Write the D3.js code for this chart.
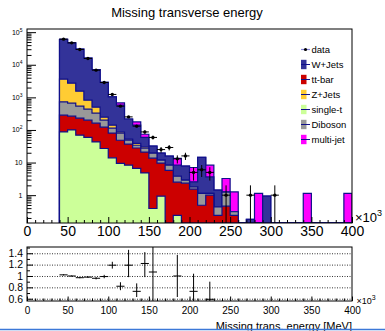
<!DOCTYPE html>
<html>
<head>
<meta charset="utf-8">
<script src="https://cdn.jsdelivr.net/npm/d3@7"></script>
<style>
    html, body { margin: 0; padding: 0; background: #fff; }
    svg { display: block; font-family: "Liberation Sans", Arial, Helvetica, sans-serif; }
</style>
</head>
<body>
<div id="chart"></div>
<script>
// bins of 10 GeV (x axis is in units of 10^3 MeV)
const binLow = [40, 50, 60, 70, 80, 90, 100, 110, 120, 130, 140, 150, 160, 170, 180, 190, 200, 210,
    220, 230, 240, 250, 260, 270, 280, 290, 300, 310, 320, 330, 340, 350, 360, 370, 380, 390];
const binWidth = 10;

// stacked MC samples, bottom to top
const singleT = [87, 100, 69, 59, 43, 27, 14, 9.4, 8.3, 6.6, 4.8, 0.39, 0.93, 0, 0.24, 0, 0, 0,
    0, 0, 0, 0, 0, 0, 0, 0, 0, 0, 0, 0, 0, 0, 0, 0, 0, 0];
const ttbar = [197, 165, 161, 141, 119, 95, 66, 39, 28.7, 21.4, 16.2, 13.2, 8.7, 5.8, 2.26, 2.33, 1.53, 0.49,
    1.0, 0.24, 0.46, 0.24, 0, 0, 0, 0, 0, 0, 0, 0, 0, 0, 0, 0, 0, 0];
const diboson = [444, 399, 307, 235, 165, 78, 34, 31, 12, 6, 6.7, 5.8, 2.2, 2.5, 1.3, 0.55, 0.27, 0.64,
    0.13, 0.2, 0.78, 0.07, 0, 0, 0, 0, 0, 0, 0, 0, 0, 0, 0, 0, 0, 0];
const zjets = [2887, 2063, 1012, 385, 173, 47, 26, 7, 3, 5, 2.3, 0, 0, 0, 0, 0, 0, 0,
    0, 0, 0, 0, 0, 0, 0, 0, 0, 0, 0, 0, 0, 0, 0, 0, 0, 0];
const wjets = [56800, 44300, 28750, 15080, 6610, 2643, 894, 490, 165, 101, 29, 12.6, 7.6, 7.4, 4.5, 4.9, 0.76, 13.2,
    2.5, 0.98, 0, 0, 0, 0.18, 0, 0.93, 0, 0, 0, 0, 0, 0, 0, 0, 0, 0];
const multijet = [0, 0, 0, 0, 0, 0, 0, 101, 0, 37, 15, 0, 0, 0, 5.1, 0, 4.5, 0,
    4.7, 0, 2.0, 0.95, 0, 0, 1.13, 0, 0, 0, 0, 0, 1.13, 0, 0, 0, 0, 1.13];

// data points
const dataLow = [40, 50, 60, 70, 80, 90, 100, 110, 120, 130, 140, 150, 160, 170, 180, 190, 200, 210, 220, 240, 270, 300];
const dataVal = [61000, 47000, 29400, 15600, 6830, 2860, 1230, 537, 252, 131, 87, 59, 25, 29, 13, 16, 5, 6, 5, 1, 1, 1];
const dataErr = [247, 217, 171, 125, 83, 53, 35, 23, 16, 11.4, 9.3, 7.7, 5, 5.4, 3.6, 4, 2.2, 2.4, 2.2, 1, 1, 1];

// data / MC ratio
const ratioLow = [40, 50, 60, 70, 80, 90, 100, 110, 120, 130, 140, 150, 180, 200, 220];
const ratioVal = [1.02, 1.0, 0.97, 0.98, 0.96, 0.99, 1.19, 0.82, 1.19, 0.73, 1.22, 1.07, 1.0, 0.73, 0.59];
const ratioUp = [0.01, 0.01, 0.01, 0.015, 0.02, 0.03, 0.06, 0.07, 0.27, 0.14, 0.2, 0.5, 0.37, 0.31, 0.31];
const ratioDown = [0.01, 0.01, 0.01, 0.015, 0.02, 0.03, 0.06, 0.07, 0.21, 0.1, 0.24, 0.52, 0.37, 0.3, 0.3];

const xTicks = [0, 50, 100, 150, 200, 250, 300, 350, 400];
const yDecades = [1, 10, 100, 1000, 10000, 100000];
const ratioTicks = [0.6, 0.8, 1, 1.2, 1.4];
const ratioTickLabels = ["0.6", "0.8", "1", "1.2", "1.4"];

const keys = ["singleT", "ttbar", "diboson", "zjets", "wjets", "multijet"];
const colors = {
    singleT: "#ccff99",
    ttbar: "#cc0000",
    diboson: "#999999",
    zjets: "#ffcc33",
    wjets: "#333399",
    multijet: "#ff00ff"
};
const outline = "#10108a";
const legendItems = [
    { label: "W+Jets", key: "wjets" },
    { label: "tt-bar", key: "ttbar" },
    { label: "Z+Jets", key: "zjets" },
    { label: "single-t", key: "singleT" },
    { label: "Diboson", key: "diboson" },
    { label: "multi-jet", key: "multijet" }
];

const width = 385;
const height = 331;
const frame = { left: 27, right: 352, top: 29, bottom: 223 };
const rframe = { left: 27, right: 352, top: 247, bottom: 301 };

const svg = d3.select("#chart")
    .append("svg")
    .attr("width", width)
    .attr("height", height);

const x = d3.scaleLinear().domain([0, 400]).range([frame.left, frame.right]);
const y = d3.scaleLog().domain([0.14, 1.25e5]).range([frame.bottom, frame.top]).clamp(true);
const yr = d3.scaleLinear().domain([0.56, 1.51]).range([rframe.bottom, rframe.top]);
const floor = 1e-3;

svg.append("text")
    .attr("x", 187)
    .attr("y", 17)
    .attr("text-anchor", "middle")
    .style("font-size", "13px")
    .text("Missing transverse energy");

const defs = svg.append("defs");
defs.append("clipPath").attr("id", "clipMain")
    .append("rect")
    .attr("x", frame.left).attr("y", frame.top)
    .attr("width", frame.right - frame.left).attr("height", frame.bottom - frame.top);
defs.append("clipPath").attr("id", "clipRatio")
    .append("rect")
    .attr("x", rframe.left).attr("y", rframe.top)
    .attr("width", rframe.right - rframe.left).attr("height", rframe.bottom - rframe.top);

// ---- stacked histograms
const rows = binLow.map((b, i) => ({
    bin: b,
    singleT: singleT[i],
    ttbar: ttbar[i],
    diboson: diboson[i],
    zjets: zjets[i],
    wjets: wjets[i],
    multijet: multijet[i]
}));
const stacked = d3.stack().keys(keys)(rows);

const stepLine = d3.line().x(d => d[0]).y(d => d[1]);
function stepPoints(series) {
    const pts = [[x(binLow[0]), frame.bottom]];
    series.forEach((d, i) => {
        const yy = y(Math.max(d[1], floor));
        pts.push([x(binLow[i]), yy], [x(binLow[i] + binWidth), yy]);
    });
    pts.push([x(binLow[binLow.length - 1] + binWidth), frame.bottom]);
    return pts;
}

const main = svg.append("g").attr("clip-path", "url(#clipMain)");

main.selectAll(".hist")
    .data(stacked.slice().reverse())
    .join("path")
        .attr("class", "hist")
        .attr("d", s => stepLine(stepPoints(s)))
        .attr("fill", s => colors[s.key])
        .attr("stroke", outline)
        .attr("stroke-width", 1.2)
        .attr("stroke-linejoin", "miter");

// ---- data points
const points = dataLow.map((b, i) => ({ bin: b, v: dataVal[i], e: dataErr[i] }));
const dp = main.selectAll(".dp")
    .data(points)
    .join("g")
        .attr("class", "dp");
dp.append("line")
    .attr("x1", d => x(d.bin)).attr("x2", d => x(d.bin + binWidth))
    .attr("y1", d => y(d.v)).attr("y2", d => y(d.v))
    .attr("stroke", "#000").attr("stroke-width", 1);
dp.append("line")
    .attr("x1", d => x(d.bin + binWidth / 2)).attr("x2", d => x(d.bin + binWidth / 2))
    .attr("y1", d => y(d.v + d.e)).attr("y2", d => y(Math.max(d.v - d.e, floor)))
    .attr("stroke", "#000").attr("stroke-width", 1);
dp.append("circle")
    .attr("cx", d => x(d.bin + binWidth / 2))
    .attr("cy", d => y(d.v))
    .attr("r", 1.7)
    .attr("fill", "#000");

// ---- main axes
const xMajor = svg.append("g")
    .attr("transform", `translate(0,${frame.bottom})`)
    .call(d3.axisBottom(x).tickValues(xTicks).tickSize(-6).tickPadding(3.5).tickFormat(d => d));
xMajor.select(".domain").remove();
xMajor.attr("font-size", 14).attr("font-family", null);
xMajor.selectAll("text").attr("fill", "#000");

const minorX = d3.range(0, 401, 10).filter(v => v % 50 !== 0);
svg.append("g")
    .attr("transform", `translate(0,${frame.bottom})`)
    .call(d3.axisBottom(x).tickValues(minorX).tickSize(-3).tickFormat(""))
    .select(".domain").remove();

svg.append("g")
    .attr("transform", `translate(${frame.left},0)`)
    .call(d3.axisLeft(y).tickValues(yDecades).tickSize(-9).tickFormat(""))
    .select(".domain").remove();

const minorY = [];
[-1, 0, 1, 2, 3, 4, 5].forEach(k => {
    for (let m = 2; m <= 9; m++) {
        const v = m * Math.pow(10, k);
        if (v > 0.14 && v < 1.25e5) minorY.push(v);
    }
});
svg.append("g")
    .attr("transform", `translate(${frame.left},0)`)
    .call(d3.axisLeft(y).tickValues(minorY).tickSize(-4.5).tickFormat(""))
    .select(".domain").remove();

const yLab = svg.selectAll(".ylab")
    .data(yDecades)
    .join("text")
        .attr("class", "ylab")
        .attr("x", 22.5)
        .attr("y", d => y(d) + 2.5)
        .attr("text-anchor", "end")
        .style("font-size", "7px");
yLab.each(function(d) {
    const t = d3.select(this);
    if (d < 100) {
        t.text(d);
    } else {
        t.append("tspan").text("10");
        t.append("tspan")
            .attr("dy", -3)
            .style("font-size", "5px")
            .text(Math.round(Math.log10(d)));
    }
});

const xUnit = svg.append("text")
    .attr("x", 355)
    .attr("y", 222)
    .style("font-size", "13px");
xUnit.append("tspan").text("\u00d710");
xUnit.append("tspan").attr("dy", -6).style("font-size", "9px").text("3");

svg.append("rect")
    .attr("x", frame.left).attr("y", frame.top)
    .attr("width", frame.right - frame.left).attr("height", frame.bottom - frame.top)
    .attr("fill", "none")
    .attr("stroke", "#000")
    .attr("stroke-width", 1);

// ---- legend
const lx = 301;
const ly0 = 49.5;
const dyLeg = 15;
const legend = svg.append("g").style("font-size", "9.5px");

legend.append("line")
    .attr("x1", lx).attr("x2", lx + 9)
    .attr("y1", ly0).attr("y2", ly0)
    .attr("stroke", "#8888dd").attr("stroke-width", 1.2);
legend.append("circle")
    .attr("cx", lx + 4.5).attr("cy", ly0).attr("r", 1.6).attr("fill", "#000");
legend.append("text")
    .attr("x", lx + 10.5).attr("y", ly0 + 3.3)
    .text("data");

const li = legend.selectAll(".li")
    .data(legendItems)
    .join("g")
        .attr("class", "li")
        .attr("transform", (d, i) => `translate(${lx},${ly0 + dyLeg * (i + 1)})`);
li.append("rect")
    .attr("x", 0).attr("y", -4.7)
    .attr("width", 5.5).attr("height", 9.4)
    .attr("fill", d => colors[d.key]);
li.append("line")
    .attr("x1", 0).attr("x2", 9)
    .attr("y1", 0).attr("y2", 0)
    .attr("stroke", outline).attr("stroke-width", 1);
li.append("text")
    .attr("x", 10.5).attr("y", 3.3)
    .text(d => d.label);

// ---- ratio panel
const grid = svg.append("g")
    .attr("transform", `translate(${rframe.left},0)`)
    .call(d3.axisLeft(yr).tickValues(ratioTicks).tickSize(-(rframe.right - rframe.left)).tickFormat(""));
grid.select(".domain").remove();
grid.selectAll("line")
    .attr("stroke", "#000")
    .attr("stroke-width", 0.8)
    .attr("stroke-dasharray", "1,1.5");

const ryAxis = svg.append("g")
    .attr("transform", `translate(${rframe.left},0)`)
    .call(d3.axisLeft(yr).tickValues(ratioTicks).tickSize(-6).tickPadding(4)
        .tickFormat((d, i) => ratioTickLabels[i]));
ryAxis.select(".domain").remove();
ryAxis.attr("font-size", 10.5).attr("font-family", null);
ryAxis.selectAll("text").attr("fill", "#000");

svg.append("g")
    .attr("transform", `translate(${rframe.left},0)`)
    .call(d3.axisLeft(yr).tickValues([0.7, 0.9, 1.1, 1.3, 1.5]).tickSize(-3).tickFormat(""))
    .select(".domain").remove();

const rxAxis = svg.append("g")
    .attr("transform", `translate(0,${rframe.bottom})`)
    .call(d3.axisBottom(x).tickValues(xTicks).tickSize(-4.5).tickPadding(6).tickFormat(d => d));
rxAxis.select(".domain").remove();
rxAxis.attr("font-size", 10).attr("font-family", null);
rxAxis.selectAll("text").attr("fill", "#000");

svg.append("g")
    .attr("transform", `translate(0,${rframe.bottom})`)
    .call(d3.axisBottom(x).tickValues(minorX).tickSize(-2.5).tickFormat(""))
    .select(".domain").remove();

const ratioPts = ratioLow.map((b, i) => ({ bin: b, v: ratioVal[i], up: ratioUp[i], down: ratioDown[i] }));
const rp = svg.append("g")
    .attr("clip-path", "url(#clipRatio)")
    .selectAll(".rp")
    .data(ratioPts)
    .join("g")
        .attr("class", "rp");
rp.append("line")
    .attr("x1", d => x(d.bin)).attr("x2", d => x(d.bin + binWidth))
    .attr("y1", d => yr(d.v)).attr("y2", d => yr(d.v))
    .attr("stroke", "#000").attr("stroke-width", 1);
rp.append("line")
    .attr("x1", d => x(d.bin + binWidth / 2)).attr("x2", d => x(d.bin + binWidth / 2))
    .attr("y1", d => yr(d.v + d.up)).attr("y2", d => yr(d.v - d.down))
    .attr("stroke", "#000").attr("stroke-width", 1);

svg.append("rect")
    .attr("x", rframe.left).attr("y", rframe.top)
    .attr("width", rframe.right - rframe.left).attr("height", rframe.bottom - rframe.top)
    .attr("fill", "none")
    .attr("stroke", "#000")
    .attr("stroke-width", 1);

const rUnit = svg.append("text")
    .attr("x", 356.5)
    .attr("y", 304)
    .style("font-size", "9px");
rUnit.append("tspan").text("\u00d710");
rUnit.append("tspan").attr("dy", -4.5).style("font-size", "7px").text("3");

svg.append("text")
    .attr("x", 352)
    .attr("y", 330)
    .attr("text-anchor", "end")
    .style("font-size", "11px")
    .text("Missing trans. energy [MeV]");

svg.append("line")
    .attr("x1", 0).attr("x2", width)
    .attr("y1", 329.5).attr("y2", 329.5)
    .attr("stroke", "#3c78d8")
    .attr("stroke-width", 1.5);
</script>
</body>
</html>
